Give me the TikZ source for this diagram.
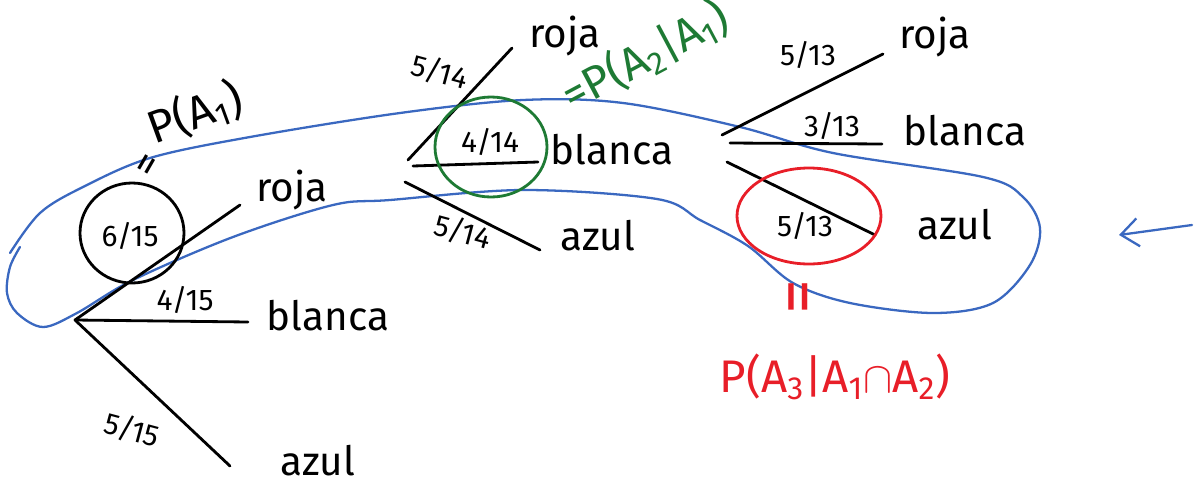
\documentclass[tikz,border=0pt]{standalone}
\usepackage{fontspec}
\setmainfont{Fira Sans}
\usetikzlibrary{arrows.meta}
\definecolor{loopblue}{RGB}{58,104,192}
\definecolor{pengreen}{RGB}{30,122,52}
\definecolor{penred}{RGB}{232,30,40}
\begin{document}
\begin{tikzpicture}[x=0.02cm,y=-0.02cm,
  branch/.style={line width=1.6pt, line cap=round},
  word/.style={font=\fontsize{23}{26}\selectfont, inner sep=0pt},
  note/.style={font=\fontsize{26}{30}\selectfont, inner sep=0pt},
  frac/.style={font=\fontsize{17}{20}\selectfont, inner sep=0pt},
  bluepen/.style={draw=loopblue, line width=1.3pt, line cap=round},
  ring/.style={line width=1.6pt}]
\useasboundingbox (0,0) rectangle (1194,484);

% blue loop
\draw[bluepen] plot[smooth, tension=0.55] coordinates {
 (10,253) (40,213) (83,187) (150,158) (250,137) (400,113) (523,100) (623,103)
 (740,127) (833,153) (983,177) (1023,197) (1040,228) (1030,265) (993,303)
 (933,313) (850,303) (793,283) (748,246) (700,220) (657,199) (523,190)
 (390,200) (333,205) (233,237) (133,280) (77,313) (43,327) (17,313) (7,293)
 (10,267) (20,247)};

% level 1
\coordinate (r) at (75,320);
\coordinate (r1) at (240,205);
\coordinate (r2) at (248,322);
\coordinate (r3) at (230,466);
\draw[branch] (r) -- (r1);
\draw[branch] (r) -- (r2);
\draw[branch] (r) -- (r3);
\node[word] (roja1) at (292,190) {roja};
\node[word] (blanca1) at (328,316) {blanca};
\node[word] (azul1) at (318,461) {azul};
\node[frac] (f415) at (185,300) {4/15};
\node[frac, rotate=-15] (f515) at (132,430) {5/15};
\node[frac] (f615) at (130,236) {6/15};
\draw[ring] (132,233) ellipse [x radius=52, y radius=50];
\node[font=\fontsize{24}{26}\selectfont, inner sep=0pt, rotate=60] (eq1) at (150,166) {=};
\node[note, rotate=20] (pa1) at (195,113) {P(A\textsubscript{1})};

% level 2
\coordinate (a1) at (408,160);
\coordinate (a2) at (413,166);
\coordinate (a3) at (405,182);
\coordinate (e1) at (512,48);
\coordinate (e2) at (538,162);
\coordinate (e3) at (540,250);
\draw[branch] (a1) -- (e1);
\draw[branch] (a2) -- (e2);
\draw[branch] (a3) -- (e3);
\node[word] (roja2) at (565,36) {roja};
\node[word] (blanca2) at (612,150) {blanca};
\node[word] (azul2) at (598,236) {azul};
\node[frac, rotate=-15] (f514a) at (440,72) {5/14};
\node[frac] (f414) at (490,142) {4/14};
\node[frac, rotate=-15] (f514b) at (463,232) {5/14};
\draw[ring, draw=pengreen] (491,147) ellipse [x radius=56, y radius=50];
\node[note, text=pengreen, rotate=28] (pa2) at (645,56) {=P(A\textsubscript{2}|A\textsubscript{1})};

% level 3
\coordinate (b1) at (722,135);
\coordinate (b2) at (730,143);
\coordinate (b3) at (727,162);
\coordinate (g1) at (883,54);
\coordinate (g2) at (882,144);
\coordinate (g3) at (875,235);
\draw[branch] (b1) -- (g1);
\draw[branch] (b2) -- (g2);
\draw[branch] (b3) -- (g3);
\node[word] (roja3) at (935,37) {roja};
\node[word] (blanca3) at (965,131) {blanca};
\node[word] (azul3) at (955,225) {azul};
\node[frac] (f513a) at (808,55) {5/13};
\node[frac] (f313) at (832,126) {3/13};
\node[frac] (f513b) at (805,226) {5/13};
\draw[ring, draw=penred] (809,216) ellipse [x radius=72, y radius=48];
\node[font=\fontsize{40}{44}\selectfont, inner sep=0pt, text=penred, rotate=90] (eq3) at (805,297) {=};
\node[note, text=penred] (pa3) at (835,377) {P(A\textsubscript{3}|A\textsubscript{1}$\cap$A\textsubscript{2})};

% arrow
\coordinate (arrS) at (1192,225);
\coordinate (arrE) at (1119,235);
\draw[bluepen, -{Straight Barb[length=10pt,width=16pt]}] (arrS) -- (arrE);
\end{tikzpicture}
\end{document}
